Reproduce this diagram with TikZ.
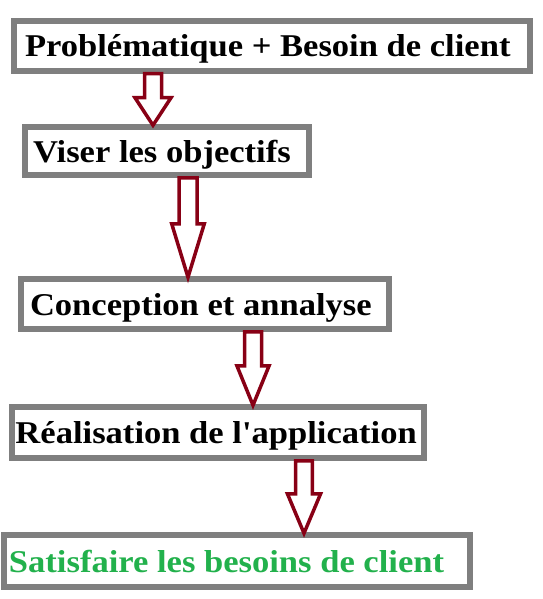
\documentclass[tikz,border=0pt]{standalone}
\usepackage{fontspec}
\usetikzlibrary{calc}
\newfontfamily\boxfont{Liberation Serif}[FakeStretch=1.09,Ligatures=TeXOff]
\definecolor{boxgray}{RGB}{127,127,127}
\definecolor{arrowred}{RGB}{136,0,21}
\definecolor{okgreen}{RGB}{34,177,76}
\newcommand\fatarrow[7]{% from, to, cx, shoulder drop, shaft half width, head half width, tip shift
  \draw[fatarrowstyle] let \p1=(#1.south), \p2=(#2.north) in
    (#3pt-#5pt,\y1) -- (#3pt-#5pt,\y1-#4pt) -- (#3pt-#6pt,\y1-#4pt) -- (#3pt,\y2+#7pt)
    -- (#3pt+#6pt,\y1-#4pt) -- (#3pt+#5pt,\y1-#4pt) -- (#3pt+#5pt,\y1) -- cycle;}
\tikzset{
  stepbox/.style={draw=boxgray, line width=5.5pt, fill=white, inner sep=0pt,
    text height=22pt, text depth=0pt,
    font=\boxfont\bfseries\fontsize{31.7}{36}\selectfont},
  fatarrowstyle/.style={draw=arrowred, line width=3.5pt, fill=white, line join=miter}
}
\begin{document}
\begin{tikzpicture}[x=1pt,y=-1pt]
\useasboundingbox[fill=white] (0,0) rectangle (542,599);
\node[stepbox, minimum width=516pt, minimum height=50pt] (b1) at (272,46)
  {\makebox[494pt][l]{Problématique + Besoin de client}};
\node[stepbox, minimum width=284pt, minimum height=48pt] (b2) at (167,151)
  {\makebox[268pt][l]{Viser les objectifs}};
\node[stepbox, minimum width=368pt, minimum height=50pt] (b3) at (205,304)
  {\makebox[350pt][l]{Conception et annalyse}};
\node[stepbox, minimum width=412pt, minimum height=51pt] (b4) at (218,432.5)
  {\makebox[405pt][l]{Réalisation de l'application}};
\node[stepbox, minimum width=466pt, minimum height=52pt, text=okgreen] (b5) at (237,561)
  {\makebox[456pt][l]{Satisfaire les besoins de client}};
\fatarrow{b1}{b2}{153}{24}{8.5}{18}{-1}
\fatarrow{b2}{b3}{188}{46}{9}{16.3}{-1}
\fatarrow{b3}{b4}{253}{34}{8.5}{16.1}{-1}
\fatarrow{b4}{b5}{304}{33}{8.3}{16.6}{-1}
\end{tikzpicture}
\end{document}
